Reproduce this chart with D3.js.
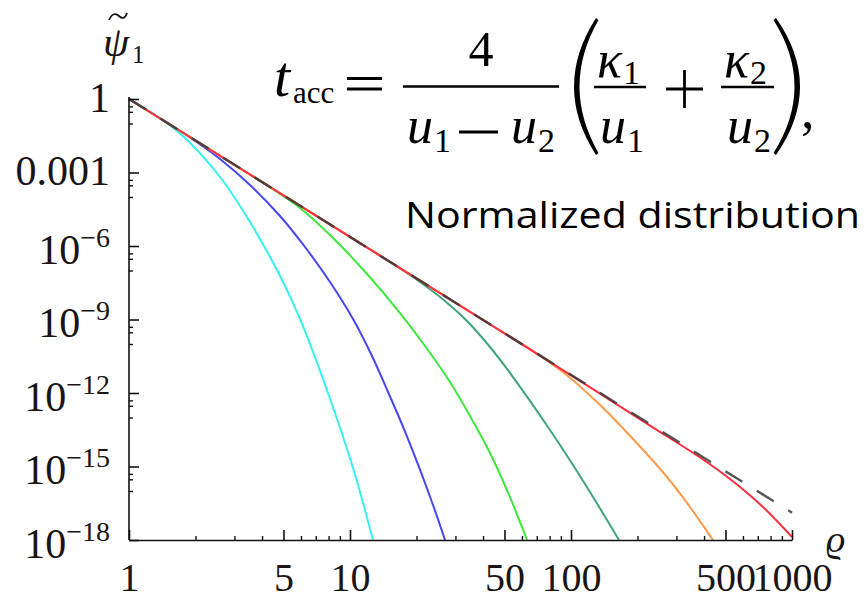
<!DOCTYPE html>
<html><head><meta charset="utf-8">
<script src="https://cdn.jsdelivr.net/npm/d3@7"></script>
<style>
html,body{margin:0;padding:0;background:#fff;}
svg{display:block;}
</style></head>
<body>
<svg id="chart" width="867" height="599"></svg>
<script>
// ---------- data ----------
const xTickMajor = [1, 5, 10, 50, 100, 500, 1000];
const xTickMinor = [2, 3, 4, 6, 7, 8, 9, 20, 30, 40, 60, 70, 80, 90, 200, 300, 400, 600, 700, 800, 900];
const yTickMajor = [1, 1e-3, 1e-6, 1e-9, 1e-12, 1e-15, 1e-18];
const yTickLabels = ["1", "0.001", "10|−6", "10|−9", "10|−12", "10|−15", "10|−18"];

const cyanRho = [1, 1.381, 1.83, 2.581, 3.528, 4.824, 5.94, 7.95, 10.32, 12.71];
const cyanPsi = [1, 0.1675, 0.02123, 6.55e-4, 9.5e-6, 5.97e-8, 1.05e-9, 1e-12, 8.7e-16, 1e-18];

const blueRho = [1, 1.381, 1.888, 2.581, 3.528, 4.824, 6.258, 8.12, 10.32, 12.58, 14.86, 17.55, 20.53, 23.75, 26.91];
const bluePsi = [1, 0.16, 0.02685, 3.56e-3, 3.09e-4, 1.68e-5, 9.1e-7, 3.4e-8, 1.05e-9, 3.24e-11, 1.1e-12, 3.39e-14, 9.5e-16, 2.69e-17, 1e-18];

const greenRho = [1, 2.096, 3.528, 4.824, 5.94, 8.38, 11.94, 16.84, 21.85, 28.35, 34.91, 43.0, 52.43, 63.23];
const greenPsi = [1, 0.01556, 8.28e-4, 1.33e-4, 3.56e-5, 2.12e-6, 7.2e-8, 1.84e-9, 8.3e-11, 2.82e-12, 1.15e-13, 3.55e-15, 6.9e-17, 1e-18];

const tealRho = [1, 5.94, 15.17, 20.74, 26.91, 33.83, 43.0, 54.65, 80.35, 115.7, 164.9];
const tealPsi = [1, 4.42e-5, 2.22e-7, 3.4e-8, 5.69e-9, 8.69e-10, 7.55e-11, 4.48e-12, 3.09e-14, 1.94e-16, 1e-18];

const orangeRho = [1, 10, 47.72, 65.24, 92.0, 135.3, 190.8, 271.9, 345.6, 439.0];
const orangePsi = [1, 2.35e-6, 3.56e-10, 6.25e-11, 7.2e-12, 3.24e-13, 1.33e-14, 3.73e-16, 2.22e-17, 1e-18];

const redRho = [1, 10, 50, 135.3, 227.8, 383.5, 524.2, 739.3, 1000];
const redPsi = [1, 2.35e-6, 2.73e-10, 9.5e-13, 4.68e-14, 2.33e-15, 3.09e-16, 2.22e-17, 1.32e-18];

const dashRho = [1, 1000];
const dashPsi = [1, 1.3e-17];

const seriesColors = ["#35f2f2", "#4646f5", "#3ee83e", "#3fa57a", "#ff9a4a", "#ff2e3e"];

// ---------- layout ----------
const svg = d3.select("#chart");
const x = d3.scaleLog().domain([1, 1000]).range([129, 792]);
const y = d3.scaleLog().domain([1e-18, 1]).range([540, 99]);
const serif = "'Liberation Serif','Times New Roman',serif";
const ink = "#1a1414";

const series = [
  [cyanRho, cyanPsi], [blueRho, bluePsi], [greenRho, greenPsi],
  [tealRho, tealPsi], [orangeRho, orangePsi], [redRho, redPsi]
];
const line = d3.line().x(d => x(d[0])).y(d => y(d[1])).curve(d3.curveCatmullRom.alpha(0.5));

series.forEach((s, i) => {
  const pts = s[0].map((r, k) => [r, s[1][k]]);
  svg.append("path").datum(pts)
    .attr("d", line).attr("fill", "none")
    .attr("stroke", seriesColors[i]).attr("stroke-width", 2);
});
svg.append("path").datum(dashRho.map((r, k) => [r, dashPsi[k]]))
  .attr("d", d3.line().x(d => x(d[0])).y(d => y(d[1])))
  .attr("fill", "none").attr("stroke", "#3a3a3a").attr("stroke-width", 2.4)
  .attr("stroke-dasharray", "20,17").attr("opacity", 0.85);

// ---------- axes ----------
const gx = svg.append("g").attr("transform", "translate(0,540)");
gx.call(d3.axisBottom(x).tickValues(xTickMajor).tickSize(-10).tickSizeOuter(0).tickFormat(d3.format("d")));
gx.select(".domain").attr("stroke", "#111").attr("stroke-width", 1.6);
gx.selectAll(".tick line").attr("stroke", "#111").attr("stroke-width", 1.6);
gx.selectAll(".tick text").attr("y", 51).attr("dy", 0)
  .attr("font-family", serif).attr("font-size", 40).attr("fill", ink);
const gxm = svg.append("g").attr("transform", "translate(0,540)");
gxm.call(d3.axisBottom(x).tickValues(xTickMinor).tickSize(-4).tickSizeOuter(0).tickFormat(""));
gxm.select(".domain").remove();
gxm.selectAll(".tick line").attr("stroke", "#111").attr("stroke-width", 1.4);

const gy = svg.append("g").attr("transform", "translate(129,0)");
gy.call(d3.axisLeft(y).tickValues(yTickMajor).tickSize(-10).tickSizeOuter(0).tickFormat(""));
gy.select(".domain").attr("stroke", "#111").attr("stroke-width", 1.6).attr("d", "M0,97V540");
gy.selectAll(".tick line").attr("stroke", "#111").attr("stroke-width", 1.6);
gy.selectAll(".tick").each(function(d, i) {
  const parts = yTickLabels[i].split("|");
  const t = d3.select(this).append("text")
    .attr("x", -19).attr("text-anchor", "end")
    .attr("font-family", serif).attr("font-size", 42).attr("fill", ink);
  if (parts.length === 1) {
    t.attr("y", 12).text(parts[0]);
  } else {
    t.attr("y", 17).text(parts[0]);
    t.append("tspan").attr("dy", -17).attr("font-size", 28).text(parts[1]);
  }
});
// minor y ticks
const yMinor = [];
yTickMajor.forEach(v => { if (v > 1e-18) [0.5, 0.3, 0.1].forEach(f => yMinor.push(v * f)); });
const gym = svg.append("g").attr("transform", "translate(129,0)");
gym.call(d3.axisLeft(y).tickValues(yMinor).tickSize(-4).tickSizeOuter(0).tickFormat(""));
gym.select(".domain").remove();
gym.selectAll(".tick line").attr("stroke", "#111").attr("stroke-width", 1.4);

// axis titles
svg.append("text").attr("x", 103).attr("y", 56).attr("font-family", serif)
  .attr("font-style", "italic").attr("font-size", 42).attr("fill", ink).text("ψ");
svg.append("path").attr("d", "M109,20 C112,13 116,13 119,16 C122,19 125,19 127,13")
  .attr("fill", "none").attr("stroke", ink).attr("stroke-width", 1.8);
svg.append("text").attr("x", 132).attr("y", 63).attr("font-family", serif)
  .attr("font-size", 25).attr("fill", ink).text("1");
svg.append("text").attr("x", 826).attr("y", 552).attr("font-family", serif)
  .attr("font-style", "italic").attr("font-size", 38).attr("fill", ink).text("ϱ");

// ---------- formula ----------
const f = svg.append("g").attr("font-family", serif).attr("fill", "#000");
function tx(str, xx, yy, size, italic, anchor) {
  return f.append("text").attr("x", xx).attr("y", yy).attr("font-size", size)
    .attr("font-style", italic ? "italic" : "normal")
    .attr("text-anchor", anchor || "start").text(str);
}
function hl(x1, x2, yy, w) {
  f.append("line").attr("x1", x1).attr("x2", x2).attr("y1", yy).attr("y2", yy)
    .attr("stroke", "#000").attr("stroke-width", w || 2.6);
}
tx("t", 274, 96, 58, true);
tx("acc", 293, 103, 31, false);
hl(347, 382, 78.5, 3.2); hl(347, 382, 89, 3.2);
hl(403, 559, 86.5);
tx("4", 481, 66, 50, false, "middle");
tx("u", 407, 143, 52, true); tx("1", 434, 152, 34, false);
hl(459, 498, 132, 2.8);
tx("u", 511, 143, 52, true); tx("2", 538, 152, 34, false);
f.append("path").attr("d", "M596,18 Q552,86.5 596,155 L598.5,153 Q560.5,86.5 598.5,20 Z");
f.append("path").attr("d", "M776,18 Q824,86.5 776,155 L773.5,153 Q815.5,86.5 773.5,20 Z");
hl(594, 646, 87);
tx("κ", 597, 77, 52, true); tx("1", 623, 84, 34, false);
tx("u", 600, 143, 52, true); tx("1", 627, 152, 34, false);
hl(666, 703, 89, 2.8);
f.append("line").attr("x1", 684.5).attr("x2", 684.5).attr("y1", 70).attr("y2", 108)
  .attr("stroke", "#000").attr("stroke-width", 2.8);
hl(721, 774, 87);
tx("κ", 724, 77, 52, true); tx("2", 750, 84, 34, false);
tx("u", 727, 143, 52, true); tx("2", 754, 152, 34, false);
tx(",", 801, 128, 54, false);

// annotation
svg.append("text").attr("x", 405).attr("y", 228)
  .attr("font-family", "'Open Sans','Noto Sans',sans-serif").attr("font-size", 37)
  .attr("textLength", 455).attr("lengthAdjust", "spacingAndGlyphs")
  .attr("fill", "#000").text("Normalized distribution");
</script>
</body></html>
